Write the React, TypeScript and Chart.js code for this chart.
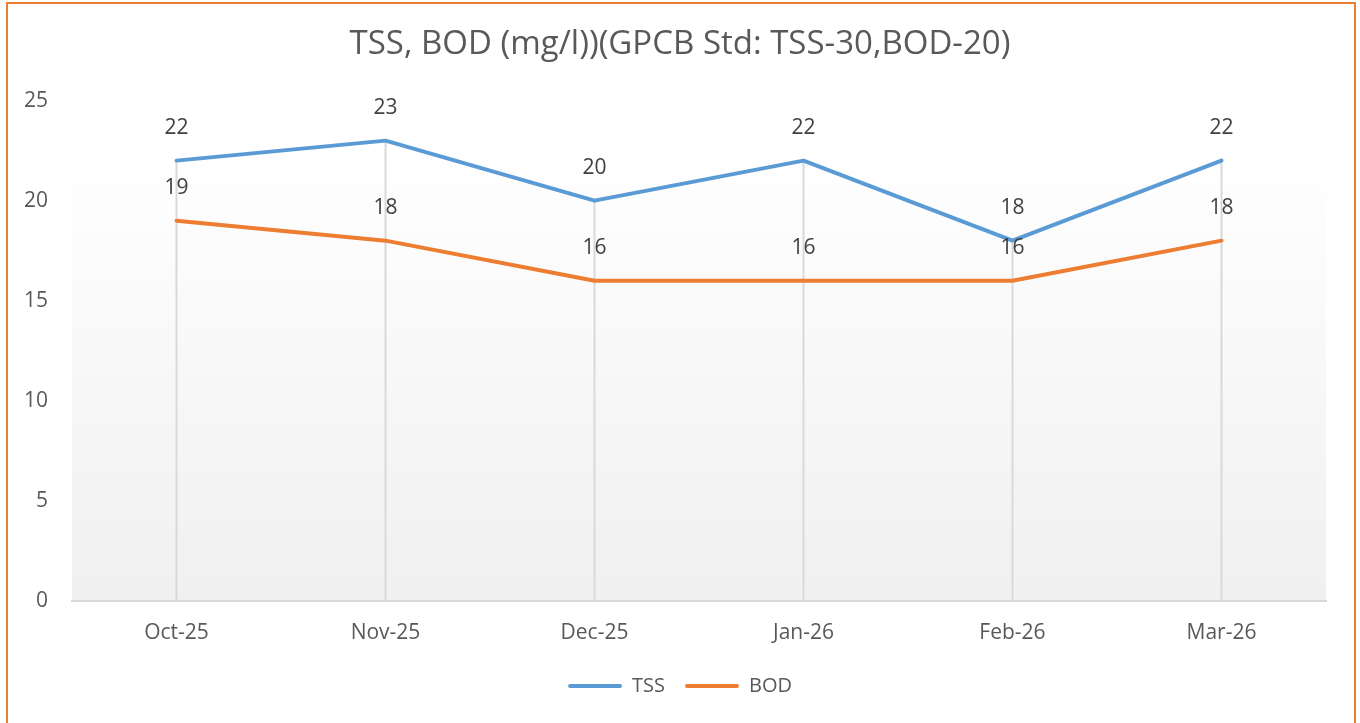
import React, { useEffect, useRef } from "react";
import { Chart, registerables } from "chart.js";

Chart.register(...registerables);

const TITLE = "TSS, BOD (mg/l))(GPCB Std: TSS-30,BOD-20)";
const categories = ["Oct-25", "Nov-25", "Dec-25", "Jan-26", "Feb-26", "Mar-26"];
const tssValues = [22, 23, 20, 22, 18, 22];
const bodValues = [19, 18, 16, 16, 16, 18];
const yTicks = [0, 5, 10, 15, 20, 25];

const FONT = "'Open Sans', sans-serif";
const TSS_COLOR = "#5B9BD5";
const BOD_COLOR = "#ED7D31";

const plotBg = {
  id: "plotBg",
  beforeDraw(chart: any) {
    const { ctx, chartArea } = chart;
    const g = ctx.createLinearGradient(0, chartArea.top, 0, chartArea.bottom);
    g.addColorStop(0, "#ffffff");
    g.addColorStop(0.1, "#ffffff");
    g.addColorStop(1, "#f0f0f0");
    ctx.save();
    ctx.fillStyle = g;
    ctx.fillRect(chartArea.left, chartArea.top, chartArea.right - chartArea.left, chartArea.bottom - chartArea.top);
    ctx.restore();
  },
};

const dropLines = {
  id: "dropLines",
  beforeDatasetsDraw(chart: any) {
    const { ctx, chartArea, scales } = chart;
    ctx.save();
    ctx.strokeStyle = "#d9d9d9";
    ctx.lineWidth = 2;
    categories.forEach((_, i) => {
      const vals = chart.data.datasets.map((d: any) => d.data[i] as number);
      const top = Math.max(...vals);
      const x = scales.x.getPixelForValue(i);
      ctx.beginPath();
      ctx.moveTo(x, scales.y.getPixelForValue(top));
      ctx.lineTo(x, chartArea.bottom);
      ctx.stroke();
    });
    ctx.restore();
  },
};

const dataLabels = {
  id: "dataLabels",
  afterDatasetsDraw(chart: any) {
    const { ctx } = chart;
    ctx.save();
    ctx.font = `21px ${FONT}`;
    ctx.fillStyle = "#404040";
    ctx.textAlign = "center";
    ctx.textBaseline = "middle";
    chart.data.datasets.forEach((ds: any, di: number) => {
      const meta = chart.getDatasetMeta(di);
      meta.data.forEach((pt: any, i: number) => {
        ctx.fillText(String(ds.data[i]), pt.x, pt.y - 33);
      });
    });
    ctx.restore();
  },
};

export default function App() {
  const ref = useRef<HTMLCanvasElement>(null);
  useEffect(() => {
    document.body.style.margin = "0";
    const chart = new Chart(ref.current!, {
      type: "line",
      data: {
        labels: categories,
        datasets: [
          {
            label: "TSS",
            data: tssValues,
            borderColor: TSS_COLOR,
            backgroundColor: TSS_COLOR,
            borderWidth: 4,
            pointRadius: 0,
            tension: 0,
            borderCapStyle: "round",
            borderJoinStyle: "round",
          },
          {
            label: "BOD",
            data: bodValues,
            borderColor: BOD_COLOR,
            backgroundColor: BOD_COLOR,
            borderWidth: 4,
            pointRadius: 0,
            tension: 0,
            borderCapStyle: "round",
            borderJoinStyle: "round",
          },
        ],
      },
      options: {
        responsive: false,
        animation: false,
        layout: { padding: { left: 0, right: 0, top: 0, bottom: 17 } },
        plugins: {
          title: {
            display: true,
            text: TITLE,
            color: "#595959",
            font: { family: FONT, size: 33, weight: "normal" },
            padding: { top: 25, bottom: 36 },
          },
          legend: {
            display: true,
            position: "bottom",
            labels: {
              color: "#595959",
              font: { family: FONT, size: 20 },
              boxWidth: 54,
              boxHeight: 4,
              padding: 20,
              generateLabels: (chart: any) =>
                chart.data.datasets.map((d: any, i: number) => ({
                  text: d.label,
                  fillStyle: d.borderColor,
                  strokeStyle: d.borderColor,
                  lineWidth: 0,
                  borderRadius: 2,
                  fontColor: "#595959",
                  datasetIndex: i,
                  hidden: false,
                })),
            },
          },
          tooltip: { enabled: false },
        },
        scales: {
          x: {
            offset: true,
            grid: { display: false, drawTicks: false },
            border: { display: true, color: "#d9d9d9", width: 2 },
            ticks: { color: "#595959", font: { family: FONT, size: 21 }, padding: 19.5, maxRotation: 0 },
            afterFit: (s: any) => {
              s.height = s.height - 9;
            },
          },
          y: {
            min: 0,
            max: 25,
            afterFit: (s: any) => {
              s.width = 72;
            },
            afterBuildTicks: (s: any) => {
              s.ticks = yTicks.map((v) => ({ value: v }));
            },
            grid: { display: false, drawTicks: false },
            border: { display: false },
            ticks: { color: "#595959", font: { family: FONT, size: 21 }, padding: 24 },
          },
          y2: {
            position: "right",
            min: 0,
            max: 25,
            grid: { display: false, drawTicks: false },
            border: { display: false },
            ticks: { display: false },
            afterFit: (s: any) => {
              s.width = 34;
            },
          },
        },
      },
      plugins: [plotBg, dropLines, dataLabels],
    });
    return () => chart.destroy();
  }, []);

  return (
    <div style={{ position: "fixed", left: 0, top: 0, width: 1360, height: 723, overflow: "hidden", background: "#fff" }}>
      <canvas ref={ref} width={1360} height={723} style={{ display: "block" }} />
      <div
        style={{
          position: "absolute",
          left: 6,
          top: 2,
          width: 1350,
          height: 760,
          border: "2px solid #ED7D31",
          boxSizing: "border-box",
          pointerEvents: "none",
        }}
      />
    </div>
  );
}
